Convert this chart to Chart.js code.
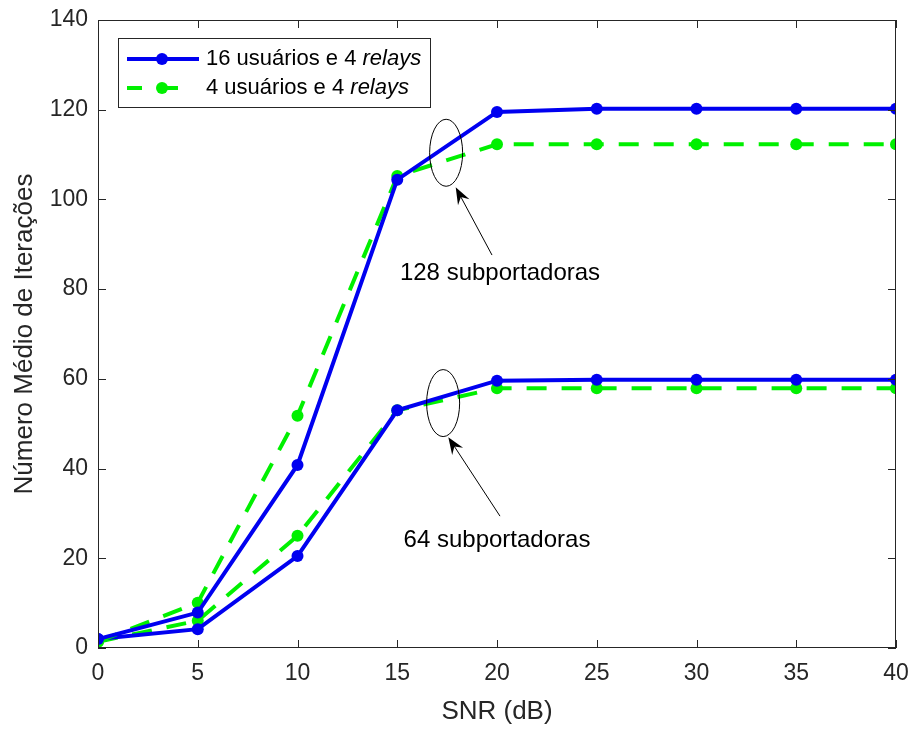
<!DOCTYPE html>
<html>
<head>
<meta charset="utf-8">
<script src="https://cdn.jsdelivr.net/npm/chart.js@4/dist/chart.umd.min.js"></script>
<style>
    html, body { margin: 0; padding: 0; background: #fff; }
    #wrap { width: 914px; height: 729px; }
</style>
</head>
<body>
<div id="wrap"><canvas id="chart" width="914" height="729"></canvas></div>
<script>
// SNR values on the x axis (dB)
const snr = [0, 5, 10, 15, 20, 25, 30, 35, 40];

// 128 subcarriers
const iter128Users16 = [2.0, 7.9, 40.8, 104.4, 119.5, 120.2, 120.2, 120.2, 120.2];
const iter128Users4 = [1.4, 10.1, 51.8, 105.2, 112.3, 112.3, 112.3, 112.3, 112.3];

// 64 subcarriers
const iter64Users16 = [2.0, 4.2, 20.5, 53.0, 59.6, 59.8, 59.8, 59.8, 59.8];
const iter64Users4 = [1.4, 6.1, 25.0, 53.0, 57.9, 57.9, 57.9, 57.9, 57.9];

const xTicks = [0, 5, 10, 15, 20, 25, 30, 35, 40];
const yTicks = [0, 20, 40, 60, 80, 100, 120, 140];

const legendLabels = [['16 usuários e 4 ', 'relays'], ['4 usuários e 4 ', 'relays']];
const annotationLabels = ['128 subportadoras', '64 subportadoras'];

const BLUE = '#0000f0';
const GREEN = '#00f000';
const AXIS = '#262626';
const FONT = '"Liberation Sans", Arial, Helvetica, sans-serif';

function toPoints(values) {
    return values.map((v, i) => ({ x: snr[i], y: v }));
}

function solidSet(values) {
    return {
        data: toPoints(values),
        borderColor: BLUE,
        backgroundColor: BLUE,
        borderWidth: 4,
        pointRadius: 6,
        pointBorderWidth: 0,
        pointBackgroundColor: BLUE,
        tension: 0
    };
}

function dashedSet(values) {
    return {
        data: toPoints(values),
        borderColor: GREEN,
        backgroundColor: GREEN,
        borderWidth: 4,
        borderDash: [20, 15],
        pointRadius: 6,
        pointBorderWidth: 0,
        pointBackgroundColor: GREEN,
        tension: 0
    };
}

// Box, inward ticks, legend and the ellipse/arrow notes, drawn like MATLAB
const matlabDecor = {
    id: 'matlabDecor',
    afterDatasetsDraw(chart) {
        const ctx = chart.ctx;
        const a = chart.chartArea;
        const xs = chart.scales.x;
        const ys = chart.scales.y;

        ctx.save();
        ctx.strokeStyle = AXIS;
        ctx.lineWidth = 1;
        ctx.strokeRect(a.left + 0.5, a.top + 0.5, a.right - a.left - 1, a.bottom - a.top - 1);

        const tl = 8;
        ctx.beginPath();
        xTicks.forEach(t => {
            const px = Math.round(xs.getPixelForValue(t)) + 0.5;
            ctx.moveTo(px, a.bottom);
            ctx.lineTo(px, a.bottom - tl);
            ctx.moveTo(px, a.top);
            ctx.lineTo(px, a.top + tl);
        });
        yTicks.forEach(t => {
            const py = Math.round(ys.getPixelForValue(t)) + 0.5;
            ctx.moveTo(a.left, py);
            ctx.lineTo(a.left + tl, py);
            ctx.moveTo(a.right, py);
            ctx.lineTo(a.right - tl, py);
        });
        ctx.stroke();

        // Ellipses with arrows and their labels (positions in data units)
        const notes = [
            { ex: 17.45, ey: 110.4, tipX: 17.93, tipY: 102.7, tailX: 19.75, tailY: 87.6, tx: 20.15, ty: 83.6, text: annotationLabels[0] },
            { ex: 17.3, ey: 54.6, tipX: 17.56, tipY: 47.0, tailX: 20.15, tailY: 29.4, tx: 20.0, ty: 23.9, text: annotationLabels[1] }
        ];
        ctx.font = '24px ' + FONT;
        ctx.fillStyle = '#000';
        ctx.textAlign = 'center';
        ctx.textBaseline = 'middle';
        notes.forEach(n => {
            const cx = xs.getPixelForValue(n.ex);
            const cy = ys.getPixelForValue(n.ey);
            ctx.strokeStyle = '#000';
            ctx.lineWidth = 1;
            ctx.beginPath();
            ctx.ellipse(cx, cy, 16.5, 33.5, 0, 0, Math.PI * 2);
            ctx.stroke();

            const x1 = xs.getPixelForValue(n.tailX), y1 = ys.getPixelForValue(n.tailY);
            const x2 = xs.getPixelForValue(n.tipX), y2 = ys.getPixelForValue(n.tipY);
            const ang = Math.atan2(y2 - y1, x2 - x1);
            const hl = 17, hw = 6.5;
            ctx.beginPath();
            ctx.moveTo(x1, y1);
            ctx.lineTo(x2 - Math.cos(ang) * hl * 0.6, y2 - Math.sin(ang) * hl * 0.6);
            ctx.stroke();
            ctx.beginPath();
            ctx.moveTo(x2, y2);
            ctx.lineTo(x2 - Math.cos(ang) * hl - Math.sin(ang) * hw, y2 - Math.sin(ang) * hl + Math.cos(ang) * hw);
            ctx.lineTo(x2 - Math.cos(ang) * hl * 0.65, y2 - Math.sin(ang) * hl * 0.65);
            ctx.lineTo(x2 - Math.cos(ang) * hl + Math.sin(ang) * hw, y2 - Math.sin(ang) * hl - Math.cos(ang) * hw);
            ctx.closePath();
            ctx.fill();

            ctx.fillText(n.text, xs.getPixelForValue(n.tx), ys.getPixelForValue(n.ty));
        });

        // Legend
        const lx = a.left + 20, ly = a.top + 18, lw = 312, lh = 69;
        ctx.fillStyle = '#fff';
        ctx.fillRect(lx, ly, lw, lh);
        ctx.strokeStyle = AXIS;
        ctx.lineWidth = 1;
        ctx.strokeRect(lx + 0.5, ly + 0.5, lw, lh);

        const styles = [
            { color: BLUE, dash: [] },
            { color: GREEN, dash: [15, 21] }
        ];
        ctx.textAlign = 'left';
        legendLabels.forEach((lab, i) => {
            const yy = ly + 21 + i * 29;
            ctx.strokeStyle = styles[i].color;
            ctx.lineWidth = 4;
            ctx.setLineDash(styles[i].dash);
            ctx.beginPath();
            ctx.moveTo(lx + 9, yy);
            ctx.lineTo(lx + 81, yy);
            ctx.stroke();
            ctx.setLineDash([]);
            ctx.fillStyle = styles[i].color;
            ctx.beginPath();
            ctx.arc(lx + 44, yy, 6, 0, Math.PI * 2);
            ctx.fill();

            ctx.fillStyle = '#000';
            ctx.font = '22px ' + FONT;
            const tx = lx + 88;
            ctx.fillText(lab[0], tx, yy);
            const w = ctx.measureText(lab[0]).width;
            ctx.font = 'italic 22px ' + FONT;
            ctx.fillText(lab[1], tx + w, yy);
        });
        ctx.restore();
    }
};

const ctx = document.getElementById('chart');
new Chart(ctx, {
    type: 'line',
    data: {
        datasets: [
            solidSet(iter128Users16),
            dashedSet(iter128Users4),
            solidSet(iter64Users16),
            dashedSet(iter64Users4)
        ]
    },
    options: {
        responsive: false,
        animation: false,
        layout: { padding: { top: 20, right: 18, left: 0, bottom: 0 } },
        plugins: {
            legend: { display: false },
            tooltip: { enabled: false }
        },
        scales: {
            x: {
                type: 'linear',
                min: 0,
                max: 40,
                afterFit: s => { s.height = 81; s.paddingLeft = 0; s.paddingRight = 0; },
                afterBuildTicks: s => { s.ticks = xTicks.map(v => ({ value: v })); },
                grid: { display: false, drawTicks: false },
                border: { display: false },
                ticks: { color: AXIS, padding: 12, autoSkip: false, font: { family: FONT, size: 23 }, maxRotation: 0 },
                title: {
                    display: true,
                    text: 'SNR (dB)',
                    color: AXIS,
                    font: { family: FONT, size: 26 },
                    padding: { top: 4, bottom: 2 }
                }
            },
            y: {
                min: 0,
                max: 140,
                afterFit: s => { s.width = 98; s.paddingTop = 0; s.paddingBottom = 0; },
                afterBuildTicks: s => { s.ticks = yTicks.map(v => ({ value: v })); },
                grid: { display: false, drawTicks: false },
                border: { display: false },
                ticks: { color: AXIS, padding: 10, autoSkip: false, font: { family: FONT, size: 23 } },
                title: {
                    display: true,
                    text: 'Número Médio de Iterações',
                    color: AXIS,
                    font: { family: FONT, size: 26 },
                    padding: { top: 9, bottom: 4 }
                }
            }
        }
    },
    plugins: [matlabDecor]
});
</script>
</body>
</html>
